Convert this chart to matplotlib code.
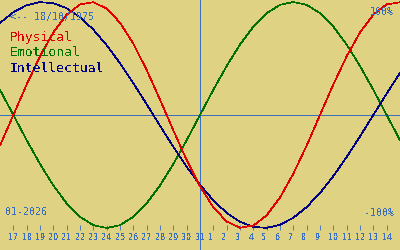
import numpy as np
import matplotlib
matplotlib.use("Agg")
import matplotlib.pyplot as plt
from matplotlib.transforms import ScaledTranslation

plt.rcParams['text.antialiased'] = False

# day offsets from 31 Dec (centre line), one value per day
offsets = list(range(-15, 16))
physical = [-0.2698, 0.0, 0.2698, 0.5196, 0.7308, 0.8879, 0.9791, 0.9977, 0.9423, 0.8170,
            0.6311, 0.3984, 0.1362, -0.1362, -0.3984, -0.6311, -0.8170, -0.9423, -0.9977,
            -0.9791, -0.8879, -0.7308, -0.5196, -0.2698, 0.0, 0.2698, 0.5196, 0.7308,
            0.8879, 0.9791, 0.9977]
emotional = [0.2225, 0.0, -0.2225, -0.4339, -0.6235, -0.7818, -0.9010, -0.9749, -1.0,
             -0.9749, -0.9010, -0.7818, -0.6235, -0.4339, -0.2225, 0.0, 0.2225, 0.4339,
             0.6235, 0.7818, 0.9010, 0.9749, 1.0, 0.9749, 0.9010, 0.7818, 0.6235, 0.4339,
             0.2225, 0.0, -0.2225]
intellectual = [0.8146, 0.9096, 0.9718, 0.9989, 0.9898, 0.9450, 0.8660, 0.7557, 0.6182,
                0.4582, 0.2817, 0.0951, -0.0951, -0.2817, -0.4582, -0.6182, -0.7557,
                -0.8660, -0.9450, -0.9898, -0.9989, -0.9718, -0.9096, -0.8146, -0.6901,
                -0.5406, -0.3717, -0.1893, 0.0, 0.1893, 0.3717]

tick_offsets = list(range(-14, 15))
tick_days = ['17', '18', '19', '20', '21', '22', '23', '24', '25', '26', '27', '28', '29',
             '30', '31', '1', '2', '3', '4', '5', '6', '7', '8', '9', '10', '11', '12',
             '13', '14']

bg = '#e0d283'
blue_txt = '#3a6fc0'

fig = plt.figure(figsize=(4, 2.5), dpi=100, facecolor=bg)
ax = fig.add_axes([0, 0, 1, 1], facecolor=bg)
ax.set_xlim(-15, 15)
ax.set_ylim(-1.1947, 1.0177)

ax.axhline(0, color=blue_txt, lw=0.5, antialiased=False)
ax.axvline(0, color=blue_txt, lw=0.5, antialiased=False)

ax.plot(offsets, emotional, color='#007000', lw=0.5, antialiased=False)
ax.plot(offsets, intellectual, color='#000080', lw=0.5, antialiased=False)
ax.plot(offsets, physical, color='#e00000', lw=0.5, antialiased=False)

for s in ax.spines.values():
    s.set_visible(False)
ax.spines['bottom'].set_position(('axes', 0.1))
ax.set_yticks([])
ax.set_xticks(tick_offsets)
ax.set_xticklabels(tick_days)
ax.tick_params(axis='x', direction='out', length=3.6, width=0.6, color=blue_txt,
               labelcolor=blue_txt, labelsize=5.8, pad=2.5)
shift = ScaledTranslation(-5 / 100, 0, fig.dpi_scale_trans)
for lab in ax.get_xticklabels():
    lab.set_horizontalalignment('left')
    lab.set_transform(lab.get_transform() + shift)

mono = 'DejaVu Sans Mono'
ax.text(10 / 400, 1 - 17 / 250, '<-- 18/10/1975', transform=ax.transAxes, family=mono,
        fontsize=7.2, color=blue_txt, va='center', ha='left', zorder=5)
ax.text(394 / 400, 1 - 12 / 250, '100%', transform=ax.transAxes, family=mono,
        fontsize=7.2, color=blue_txt, va='center', ha='right', zorder=5)
ax.text(394 / 400, 1 - 213 / 250, '-100%', transform=ax.transAxes, family=mono,
        fontsize=7.2, color=blue_txt, va='center', ha='right', zorder=5)
ax.text(5 / 400, 1 - 212 / 250, '01-2026', transform=ax.transAxes, family=mono,
        fontsize=7.2, color=blue_txt, va='center', ha='left', zorder=5)

ax.text(10 / 400, 1 - 38 / 250, 'Physical', transform=ax.transAxes, family=mono,
        fontsize=9.4, color='#e00000', va='center', ha='left', zorder=5)
ax.text(10 / 400, 1 - 53 / 250, 'Emotional', transform=ax.transAxes, family=mono,
        fontsize=9.4, color='#007000', va='center', ha='left', zorder=5)
ax.text(10 / 400, 1 - 68 / 250, 'Intellectual', transform=ax.transAxes, family=mono,
        fontsize=9.4, color='#000080', va='center', ha='left', zorder=5)

fig.savefig('out.png', dpi=100, facecolor=bg)
